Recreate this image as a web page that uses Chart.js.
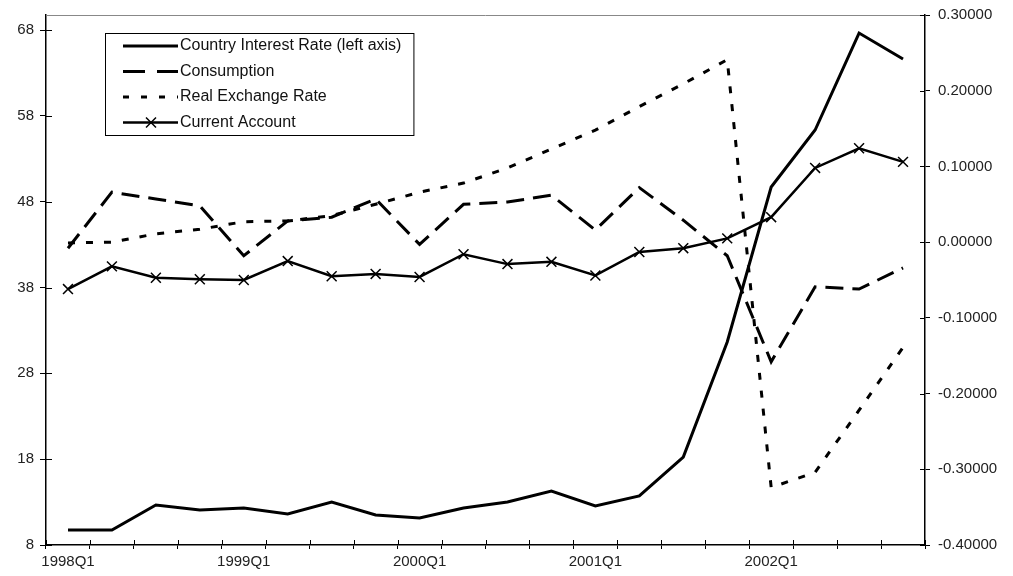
<!DOCTYPE html>
<html>
<head>
<meta charset="utf-8">
<script src="https://cdn.jsdelivr.net/npm/chart.js@4"></script>
<style>
  body { margin: 0; background: #fff; }
</style>
</head>
<body>
<canvas id="myChart" width="1013" height="576"></canvas>
<script>
// categories (quarters)
const quarters = ['1998Q1', '1998Q2', '1998Q3', '1998Q4',
  '1999Q1', '1999Q2', '1999Q3', '1999Q4',
  '2000Q1', '2000Q2', '2000Q3', '2000Q4',
  '2001Q1', '2001Q2', '2001Q3', '2001Q4',
  '2002Q1', '2002Q2', '2002Q3', '2002Q4']

// tick labels
const leftTicks = [8, 18, 28, 38, 48, 58, 68]
const rightTicks = [-0.4, -0.3, -0.2, -0.1, 0, 0.1, 0.2, 0.3]

// series
const interestRate = [9.75, 9.75, 12.66, 12.08, 12.31, 11.61, 13.01, 11.5, 11.15, 12.31,
  13.01, 14.29, 12.54, 13.71, 18.25, 31.65, 49.71, 56.35, 67.65, 64.62]
const consumption = [-0.008, 0.066, 0.057, 0.048, -0.018, 0.028, 0.033, 0.057, -0.003, 0.050,
  0.053, 0.062, 0.016, 0.072, 0.029, -0.018, -0.158, -0.059, -0.062, -0.034]
const realExchangeRate = [-0.001, 0.0, 0.011, 0.017, 0.027, 0.028, 0.035, 0.050, 0.066, 0.078,
  0.098, 0.123, 0.148, 0.179, 0.209, 0.241, -0.324, -0.304, -0.222, -0.139]
const currentAccount = [-0.062, -0.032, -0.047, -0.049, -0.050, -0.025, -0.045, -0.042, -0.046, -0.016,
  -0.029, -0.026, -0.044, -0.013, -0.008, 0.005, 0.033, 0.098, 0.124, 0.106]

const FONT = 'Liberation Sans'

// dash patterns used for the legend samples (shorter line than the plot)
const legendDash = [[], [22, 12], [6, 12], []]

// legend in a box inside the plot
const boxLegend = {
  id: 'boxLegend',
  afterDatasetsDraw(chart) {
    const c = chart.ctx
    c.save()
    c.font = '16px "' + FONT + '"'
    let w = 0
    chart.data.datasets.forEach(d => { w = Math.max(w, c.measureText(d.label).width) })
    const x0 = 105, y0 = 33
    c.fillStyle = '#fff'
    c.fillRect(x0, y0, 75 + w + 12, 102)
    c.strokeStyle = '#000'
    c.lineWidth = 1
    c.strokeRect(x0 + 0.5, y0 + 0.5, 75 + w + 12, 102)
    chart.data.datasets.forEach((d, i) => {
      const y = 46 + i * 25.5
      c.strokeStyle = '#000'
      c.lineWidth = d.borderWidth
      c.setLineDash(legendDash[i])
      c.beginPath()
      c.moveTo(123, y)
      c.lineTo(178, y)
      c.stroke()
      c.setLineDash([])
      if (d.pointStyle === 'crossRot') {
        c.lineWidth = 1.5
        c.beginPath()
        c.moveTo(146, y - 5); c.lineTo(156, y + 5)
        c.moveTo(156, y - 5); c.lineTo(146, y + 5)
        c.stroke()
      }
      c.fillStyle = '#111'
      c.textBaseline = 'middle'
      c.fillText(d.label, 180, y)
    })
    c.restore()
  }
}

// thin grey line on top of the plot + tick marks poking inside the axes
const frame = {
  id: 'frame',
  beforeDatasetsDraw(chart) {
    const a = chart.chartArea
    const c = chart.ctx
    c.save()
    c.strokeStyle = '#888'
    c.lineWidth = 1
    c.beginPath()
    c.moveTo(a.left, a.top + 0.5)
    c.lineTo(a.right, a.top + 0.5)
    c.stroke()

    c.strokeStyle = '#000'
    c.beginPath()
    const x = chart.scales.x
    for (let i = 0; i <= quarters.length; i++) {
      const px = Math.round(x.getPixelForValue(i - 0.5)) + 0.5
      c.moveTo(px, a.bottom)
      c.lineTo(px, a.bottom - 5)
    }
    leftTicks.forEach(v => {
      const py = Math.round(chart.scales.yLeft.getPixelForValue(v)) + 0.5
      c.moveTo(a.left, py)
      c.lineTo(a.left + 6, py)
    })
    rightTicks.forEach(v => {
      const py = Math.round(chart.scales.yRight.getPixelForValue(v)) + 0.5
      c.moveTo(a.right, py)
      c.lineTo(a.right - 5, py)
    })
    c.stroke()
    c.restore()
  }
}

let ctx = document.querySelector('#myChart')
new Chart(ctx, {
  type: 'line',
  data: {
    labels: quarters,
    datasets: [
      {
        label: 'Country Interest Rate (left axis)',
        data: interestRate,
        yAxisID: 'yLeft',
        borderColor: '#000',
        borderWidth: 3,
        pointRadius: 0,
        tension: 0
      },
      {
        label: 'Consumption',
        data: consumption,
        yAxisID: 'yRight',
        borderColor: '#000',
        borderWidth: 3,
        borderDash: [18, 9],
        pointRadius: 0,
        tension: 0
      },
      {
        label: 'Real Exchange Rate',
        data: realExchangeRate,
        yAxisID: 'yRight',
        borderColor: '#000',
        borderWidth: 3,
        borderDash: [7, 11],
        pointRadius: 0,
        tension: 0
      },
      {
        label: 'Current Account',
        data: currentAccount,
        yAxisID: 'yRight',
        borderColor: '#000',
        borderWidth: 2.5,
        pointStyle: 'crossRot',
        pointRadius: 7,
        pointBorderWidth: 1.5,
        pointBorderColor: '#000',
        pointBackgroundColor: '#000',
        tension: 0
      }
    ]
  },
  options: {
    responsive: false,
    animation: false,
    layout: { padding: { top: 15, left: 0, right: 0, bottom: 0 } },
    plugins: {
      legend: { display: false },
      tooltip: { enabled: false }
    },
    scales: {
      x: {
        offset: true,
        grid: { offset: true, drawOnChartArea: false, color: '#000', tickLength: 4, lineWidth: 1 },
        border: { color: '#000', width: 1.5 },
        ticks: {
          autoSkip: false,
          maxRotation: 0,
          padding: 4,
          color: '#222',
          font: { family: FONT, size: 15 },
          callback: function (v, i) {
            const q = quarters[i]
            return q.endsWith('Q1') ? q : ''
          }
        },
        afterFit(scale) { scale.height = 31; scale.paddingLeft = 0; scale.paddingRight = 0 }
      },
      yLeft: {
        position: 'left',
        min: 8,
        max: 69.75,
        afterBuildTicks(scale) { scale.ticks = leftTicks.map(v => ({ value: v })) },
        grid: { drawOnChartArea: false, color: '#000', tickLength: 6 },
        border: { color: '#000', width: 1.5 },
        ticks: {
          padding: 6,
          color: '#222',
          font: { family: FONT, size: 15 }
        },
        afterFit(scale) { scale.width = 46; scale.paddingTop = 0; scale.paddingBottom = 0 }
      },
      yRight: {
        position: 'right',
        min: -0.4,
        max: 0.3,
        afterBuildTicks(scale) { scale.ticks = rightTicks.map(v => ({ value: v })) },
        grid: { drawOnChartArea: false, color: '#000', tickLength: 5 },
        border: { color: '#000', width: 1.5 },
        ticks: {
          padding: 8,
          color: '#222',
          font: { family: FONT, size: 15 },
          callback: v => v.toFixed(5)
        },
        afterFit(scale) { scale.width = 88; scale.paddingTop = 0; scale.paddingBottom = 0 }
      }
    }
  },
  plugins: [frame, boxLegend]
})
</script>
</body>
</html>
